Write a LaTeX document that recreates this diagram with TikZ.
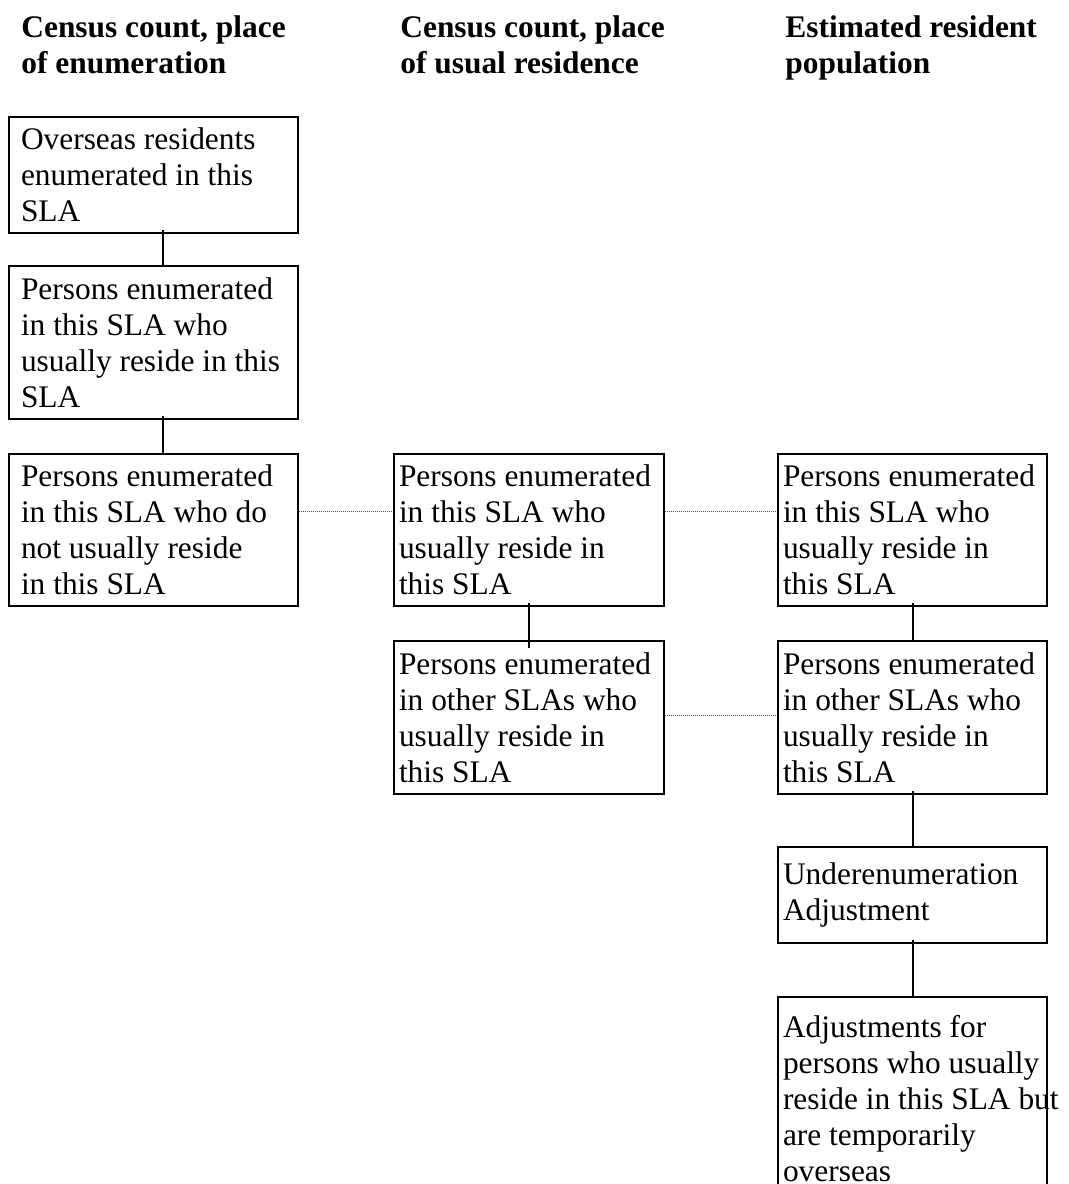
\documentclass[tikz,border=0pt]{standalone}
\usepackage{fontspec}
\setmainfont{Liberation Serif}
\usetikzlibrary{positioning}

\begin{document}
\begin{tikzpicture}[x=0.5pt, y=-0.5pt,
    block/.style={
        rectangle,
        draw=black,
        line width=1pt,
        anchor=north west,
        align=flush left,
        inner ysep=0pt,
        font=\fontsize{15.7}{18}\selectfont
    },
    colone/.style={block, inner xsep=6pt, text width=132.5pt},
    coltwo/.style={block, inner xsep=2.5pt, text width=130pt},
    colthree/.style={block, inner xsep=2.5pt, text width=129.5pt},
    head/.style={anchor=north west, align=flush left, inner sep=0pt,
        font=\fontsize{15.7}{18}\selectfont\bfseries},
    link/.style={line width=1pt, shorten <=-2pt},
    dotlink/.style={line width=0.5pt, black!70, dash pattern=on 0.5pt off 0.5pt}]

    \useasboundingbox (0,0) rectangle (1069,1184);

    % Column headings
    \node[head] (hcount) at (21,15) {Census count, place\\of enumeration};
    \node[head] (husual) at (400,15) {Census count, place\\of usual residence};
    \node[head] (herp) at (785,15) {Estimated resident\\population};

    % Place of enumeration
    \node[colone, minimum height=58pt] (overseas) at (8,116)
        {Overseas residents\\enumerated in this\\SLA};
    \node[colone, minimum height=76.5pt] (enumhere) at (8,265)
        {Persons enumerated\\in this SLA who\\usually reside in this\\SLA};
    \node[colone, minimum height=76pt] (enumaway) at (8,453)
        {Persons enumerated\\in this SLA who do\\not usually reside\\in this SLA};

    % Place of usual residence
    \node[coltwo, minimum height=76pt] (urhere) at (393,453)
        {Persons enumerated\\in this SLA who\\usually reside in\\this SLA};
    \node[coltwo, minimum height=76.5pt] (urother) at (393,640)
        {Persons enumerated\\in other SLAs who\\usually reside in\\this SLA};

    % Estimated resident population
    \node[colthree, minimum height=76pt] (erphere) at (777,453)
        {Persons enumerated\\in this SLA who\\usually reside in\\this SLA};
    \node[colthree, minimum height=76.5pt] (erpother) at (777,640)
        {Persons enumerated\\in other SLAs who\\usually reside in\\this SLA};
    \node[colthree, minimum height=48pt] (underenum) at (777,846)
        {Underenumeration\\Adjustment};
    \node[colthree, minimum height=102pt] (tempover) at (777,996)
        {Adjustments for\\persons who usually\\\mbox{reside in this SLA but}\\are temporarily\\overseas};

    % Solid links
    \draw[link] ([xshift=4.75pt]overseas.south) -- ([xshift=4.75pt]enumhere.north);
    \draw[link] ([xshift=4.75pt]enumhere.south) -- ([xshift=4.75pt]enumaway.north);
    \draw[link, shorten >=-4pt] (urhere) -- (urother);
    \draw[link] (erphere) -- (erpother);
    \draw[link] (erpother) -- (underenum);
    \draw[link] (underenum) -- (tempover);

    % Dotted links
    \draw[dotlink] ([yshift=9.5pt]enumaway.east) -- ([yshift=9.5pt]urhere.west);
    \draw[dotlink] ([yshift=9.5pt]urhere.east) -- ([yshift=9.5pt]erphere.west);
    \draw[dotlink] ([yshift=1pt]urother.east) -- ([yshift=1pt]erpother.west);
\end{tikzpicture}
\end{document}
